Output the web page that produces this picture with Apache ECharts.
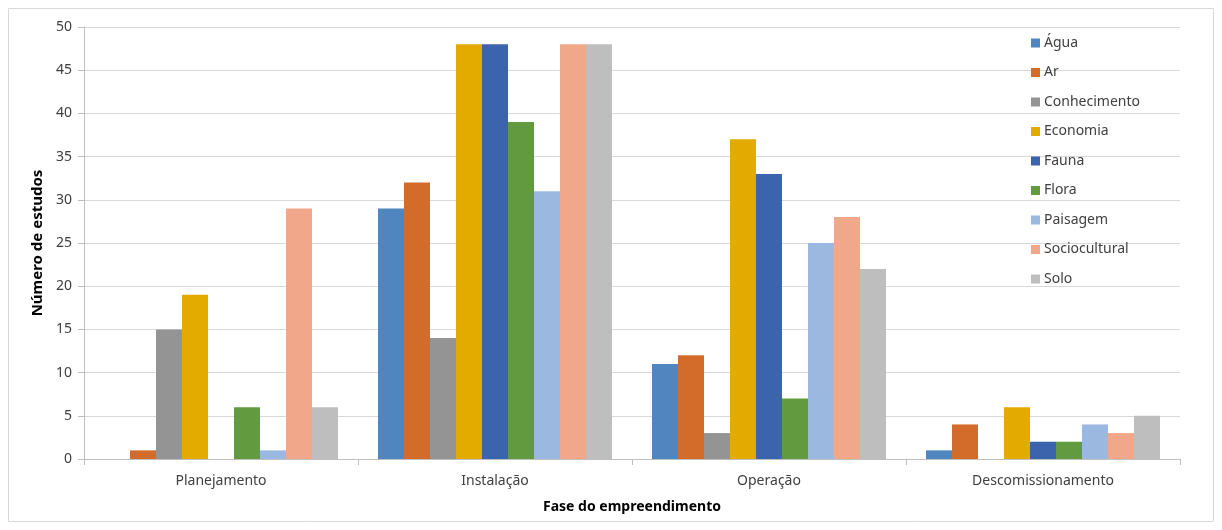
<!DOCTYPE html>
<html>
<head>
<meta charset="utf-8">
<script src="https://cdn.jsdelivr.net/npm/echarts@6/dist/echarts.min.js"></script>
<style>
  html, body { margin: 0; padding: 0; background: #fff; }
  #chart { width: 1222px; height: 530px; }
</style>
</head>
<body>
<div id="chart"></div>
<script>
// Study phases (x categories)
const phases = ['Planejamento', 'Instalação', 'Operação', 'Descomissionamento'];

// Number of studies per impact theme, one value per phase
const agua          = [0, 29, 11, 1];
const ar            = [1, 32, 12, 4];
const conhecimento  = [15, 14, 3, 0];
const economia      = [19, 48, 37, 6];
const fauna         = [0, 48, 33, 2];
const flora         = [6, 39, 7, 2];
const paisagem      = [1, 31, 25, 4];
const sociocultural = [29, 48, 28, 3];
const solo          = [6, 48, 22, 5];

const seriesDefs = [
  { name: 'Água',          data: agua,          color: '#4F86BF' },
  { name: 'Ar',            data: ar,            color: '#D36C2B' },
  { name: 'Conhecimento',  data: conhecimento,  color: '#949494' },
  { name: 'Economia',      data: economia,      color: '#E3AA00' },
  { name: 'Fauna',         data: fauna,         color: '#3C64AD' },
  { name: 'Flora',         data: flora,         color: '#629A3F' },
  { name: 'Paisagem',      data: paisagem,      color: '#9BB9E0' },
  { name: 'Sociocultural', data: sociocultural, color: '#F0A78A' },
  { name: 'Solo',          data: solo,          color: '#BEBEBE' }
];

const FONT = '"Noto Sans", "Liberation Sans", sans-serif';

const chart = echarts.init(document.getElementById('chart'), null, { renderer: 'canvas' });

chart.setOption({
  animation: false,
  backgroundColor: '#ffffff',
  textStyle: { fontFamily: FONT },
  graphic: [{
    type: 'rect',
    shape: { x: 8.5, y: 8.5, width: 1205, height: 513 },
    style: { fill: 'none', stroke: '#D9D9D9', lineWidth: 1 },
    silent: true,
    z: -1
  }],
  grid: { left: 84, right: 42, top: 27, bottom: 71, containLabel: false },
  legend: {
    orient: 'vertical',
    left: 1026,
    top: 31,
    itemWidth: 9,
    itemHeight: 9,
    itemGap: 15.5,
    icon: 'rect',
    textStyle: { fontFamily: FONT, fontSize: 14, lineHeight: 14, color: '#404040', padding: [0, 0, 0, -1] },
    data: seriesDefs.map(s => s.name)
  },
  xAxis: {
    type: 'category',
    data: phases,
    name: 'Fase do empreendimento',
    nameLocation: 'middle',
    nameGap: 41,
    nameTextStyle: { fontFamily: FONT, fontSize: 14, fontWeight: 'bold', color: '#000' },
    axisLine: { lineStyle: { color: '#BFBFBF' } },
    axisTick: { show: true, length: 6, lineStyle: { color: '#BFBFBF' } },
    axisLabel: { fontFamily: FONT, fontSize: 14, color: '#404040', margin: 15 }
  },
  yAxis: {
    type: 'value',
    min: 0,
    max: 50,
    interval: 5,
    name: 'Número de estudos',
    nameLocation: 'middle',
    nameRotate: 90,
    nameGap: 34,
    nameTextStyle: { fontFamily: FONT, fontSize: 15, fontWeight: 'bold', color: '#000' },
    axisLine: { show: true, lineStyle: { color: '#BFBFBF' } },
    axisTick: { show: true, length: 6, lineStyle: { color: '#BFBFBF' } },
    axisLabel: { fontFamily: FONT, fontSize: 14, color: '#404040', margin: 12 },
    splitLine: { lineStyle: { color: '#D9D9D9' } }
  },
  series: seriesDefs.map(s => ({
    name: s.name,
    type: 'bar',
    data: s.data,
    barGap: '0%',
    barCategoryGap: '14.6%',
    itemStyle: { color: s.color }
  }))
});
</script>
</body>
</html>
